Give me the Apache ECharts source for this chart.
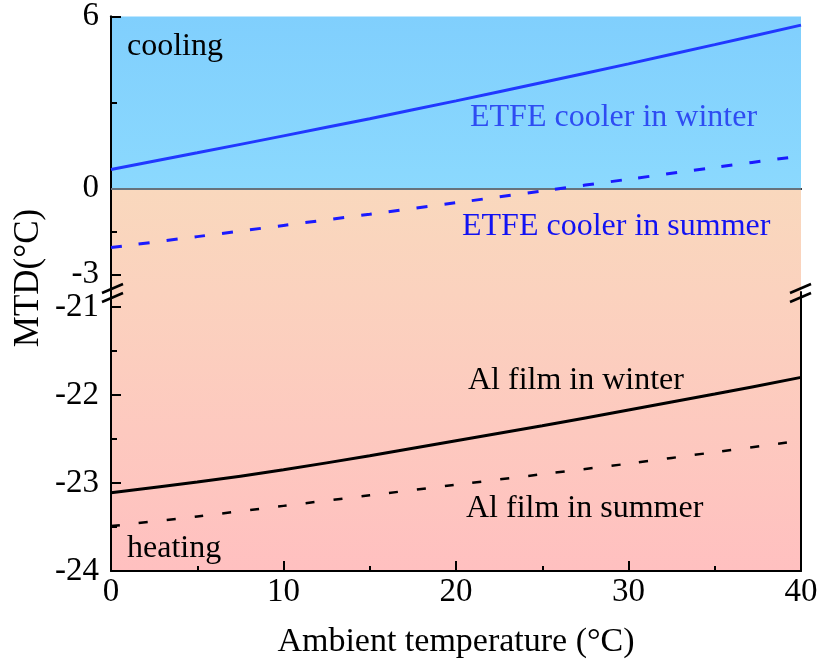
<!DOCTYPE html>
<html>
<head>
<meta charset="utf-8">
<script src="https://cdn.jsdelivr.net/npm/echarts@6/dist/echarts.min.js"></script>
<style>html,body{margin:0;padding:0;background:#fff}#c{width:821px;height:664px}</style>
</head>
<body>
<div id="c"></div>
<script>
// Data
var temps = [0, 5, 10, 15, 20, 25, 30, 35, 40];
var etfeWinter = [0.67, 1.25, 1.84, 2.44, 3.06, 3.70, 4.35, 5.02, 5.70];
var etfeSummer = [-2.05, -1.67, -1.28, -0.89, -0.49, -0.08, 0.33, 0.74, 1.14];
var alWinter = [-23.11, -22.99, -22.85, -22.69, -22.52, -22.35, -22.17, -21.99, -21.80];
var alSummer = [-23.49, -23.38, -23.26, -23.14, -23.02, -22.90, -22.78, -22.65, -22.52];
var xTicks = [0, 10, 20, 30, 40];
var topYTicks = [-3, 0, 6];
var topYMinor = [-1.5, 3];
var botYTicks = [-24, -23, -22, -21];
var botYMinor = [-23.5, -22.5, -21.5];

function pairs(xs, ys) { return xs.map(function (x, i) { return [x, ys[i]]; }); }

var FONT = 'Liberation Serif, Times New Roman, serif';
var FS = 33;
var AFS = 32;

var chart = echarts.init(document.getElementById('c'), null, {renderer: 'canvas'});

var hiddenAxis = {axisLine: {show: false}, axisTick: {show: false}, axisLabel: {show: false}, splitLine: {show: false}};
var frameLine = {axisLine: {show: true, lineStyle: {color: '#000', width: 2}}, axisTick: {show: false}, axisLabel: {show: false}, splitLine: {show: false}};

var option = {
  animation: false,
  grid: [
    {left: 111, right: 20, top: 14.5, height: 277.5, show: true, borderWidth: 0,
      backgroundColor: {type: 'linear', x: 0, y: 0, x2: 0, y2: 1, colorStops: [
        {offset: 0, color: '#80cffd'}, {offset: 0.625, color: '#8bd9fe'},
        {offset: 0.625, color: '#f9d8bd'}, {offset: 1, color: '#fbd2be'}]}},
    {left: 111, right: 20, top: 292, height: 279, show: true, borderWidth: 0,
      backgroundColor: {type: 'linear', x: 0, y: 0, x2: 0, y2: 1, colorStops: [
        {offset: 0, color: '#fbd2be'}, {offset: 1, color: '#ffc0c0'}]}}
  ],
  xAxis: [
    Object.assign({type: 'value', gridIndex: 0, min: 0, max: 40, position: 'bottom'}, hiddenAxis),
    Object.assign({type: 'value', gridIndex: 0, min: 0, max: 40, position: 'top'}, frameLine),
    {type: 'value', gridIndex: 1, min: 0, max: 40, interval: 10, position: 'bottom',
      axisLine: {show: true, onZero: false, lineStyle: {color: '#000', width: 2}},
      axisTick: {show: true, inside: true, length: 10, lineStyle: {color: '#000', width: 2}},
      minorTick: {show: true, splitNumber: 2, length: 5, lineStyle: {color: '#000', width: 2}},
      axisLabel: {show: true, color: '#000', fontFamily: FONT, fontSize: FS, margin: 5,
        customValues: xTicks},
      splitLine: {show: false},
      name: 'Ambient temperature (°C)', nameLocation: 'middle', nameGap: 54,
      nameTextStyle: {color: '#000', fontFamily: FONT, fontSize: 34}}
  ],
  yAxis: [
    {type: 'value', gridIndex: 0, min: -3.6, max: 6, position: 'left',
      axisLine: {show: true, onZero: false, lineStyle: {color: '#000', width: 2}},
      axisTick: {show: true, inside: true, length: 10, customValues: topYTicks, lineStyle: {color: '#000', width: 2}},
      axisLabel: {show: true, color: '#000', fontFamily: FONT, fontSize: FS, margin: 12, customValues: topYTicks},
      splitLine: {show: false}},
    {type: 'value', gridIndex: 0, min: -3.6, max: 6, position: 'left',
      axisLine: {show: false},
      axisTick: {show: true, inside: true, length: 6, customValues: topYMinor, lineStyle: {color: '#000', width: 2}},
      axisLabel: {show: false}, splitLine: {show: false}},
    Object.assign({type: 'value', gridIndex: 0, min: -3.6, max: 6, position: 'right'}, frameLine),
    {type: 'value', gridIndex: 1, min: -24, max: -20.83, position: 'left',
      axisLine: {show: true, onZero: false, lineStyle: {color: '#000', width: 2}},
      axisTick: {show: true, inside: true, length: 10, customValues: botYTicks, lineStyle: {color: '#000', width: 2}},
      axisLabel: {show: true, color: '#000', fontFamily: FONT, fontSize: FS, margin: 12, customValues: botYTicks},
      splitLine: {show: false}},
    {type: 'value', gridIndex: 1, min: -24, max: -20.83, position: 'left',
      axisLine: {show: false},
      axisTick: {show: true, inside: true, length: 6, customValues: botYMinor, lineStyle: {color: '#000', width: 2}},
      axisLabel: {show: false}, splitLine: {show: false}},
    Object.assign({type: 'value', gridIndex: 1, min: -24, max: -20.83, position: 'right'}, frameLine)
  ],
  series: [
    {type: 'line', xAxisIndex: 0, yAxisIndex: 0, data: pairs(temps, etfeWinter), showSymbol: false, smooth: 0.3,
      lineStyle: {color: '#2138ff', width: 3}, z: 5,
      markLine: {silent: true, symbol: 'none', label: {show: false},
        lineStyle: {color: '#8a9aa6', width: 1.5, type: 'solid'}, data: [{yAxis: 0}]}},
    {type: 'line', xAxisIndex: 0, yAxisIndex: 0, data: pairs(temps, etfeSummer), showSymbol: false, smooth: 0.3,
      lineStyle: {color: '#1a1aff', width: 3, type: [11, 17]}, z: 5},
    {type: 'line', xAxisIndex: 2, yAxisIndex: 3, data: pairs(temps, alWinter), showSymbol: false, smooth: 0.3,
      lineStyle: {color: '#000', width: 3}, z: 5},
    {type: 'line', xAxisIndex: 2, yAxisIndex: 3, data: pairs(temps, alSummer), showSymbol: false, smooth: 0.3,
      lineStyle: {color: '#000', width: 2.5, type: [9, 19]}, z: 5}
  ],
  graphic: [
    {type: 'text', x: 127, y: 47, z: 10, style: {text: 'cooling', font: AFS + 'px ' + FONT, fill: '#000', verticalAlign: 'middle'}},
    {type: 'text', x: 470, y: 118, z: 10, style: {text: 'ETFE cooler in winter', font: AFS + 'px ' + FONT, fill: '#2e4cf2', verticalAlign: 'middle'}},
    {type: 'text', x: 462, y: 227, z: 10, style: {text: 'ETFE cooler in summer', font: AFS + 'px ' + FONT, fill: '#1212f2', verticalAlign: 'middle'}},
    {type: 'text', x: 468, y: 381, z: 10, style: {text: 'Al film in winter', font: AFS + 'px ' + FONT, fill: '#000', verticalAlign: 'middle'}},
    {type: 'text', x: 466, y: 509, z: 10, style: {text: 'Al film in summer', font: AFS + 'px ' + FONT, fill: '#000', verticalAlign: 'middle'}},
    {type: 'text', x: 127, y: 549, z: 10, style: {text: 'heating', font: AFS + 'px ' + FONT, fill: '#000', verticalAlign: 'middle'}},
    {type: 'text', x: 29, y: 278, rotation: Math.PI / 2, z: 10, style: {text: 'MTD(°C)', font: '35px ' + FONT, fill: '#000', align: 'center', verticalAlign: 'middle'}},
    // axis break marks
    {type: 'line', z: 20, shape: {x1: 102, y1: 293, x2: 123, y2: 284}, style: {stroke: '#000', lineWidth: 2.5}},
    {type: 'line', z: 20, shape: {x1: 102, y1: 302, x2: 123, y2: 293}, style: {stroke: '#000', lineWidth: 2.5}},
    {type: 'line', z: 20, shape: {x1: 790, y1: 293, x2: 811, y2: 284}, style: {stroke: '#000', lineWidth: 2.5}},
    {type: 'line', z: 20, shape: {x1: 790, y1: 302, x2: 811, y2: 293}, style: {stroke: '#000', lineWidth: 2.5}}
  ]
};
chart.setOption(option);
</script>
</body>
</html>
